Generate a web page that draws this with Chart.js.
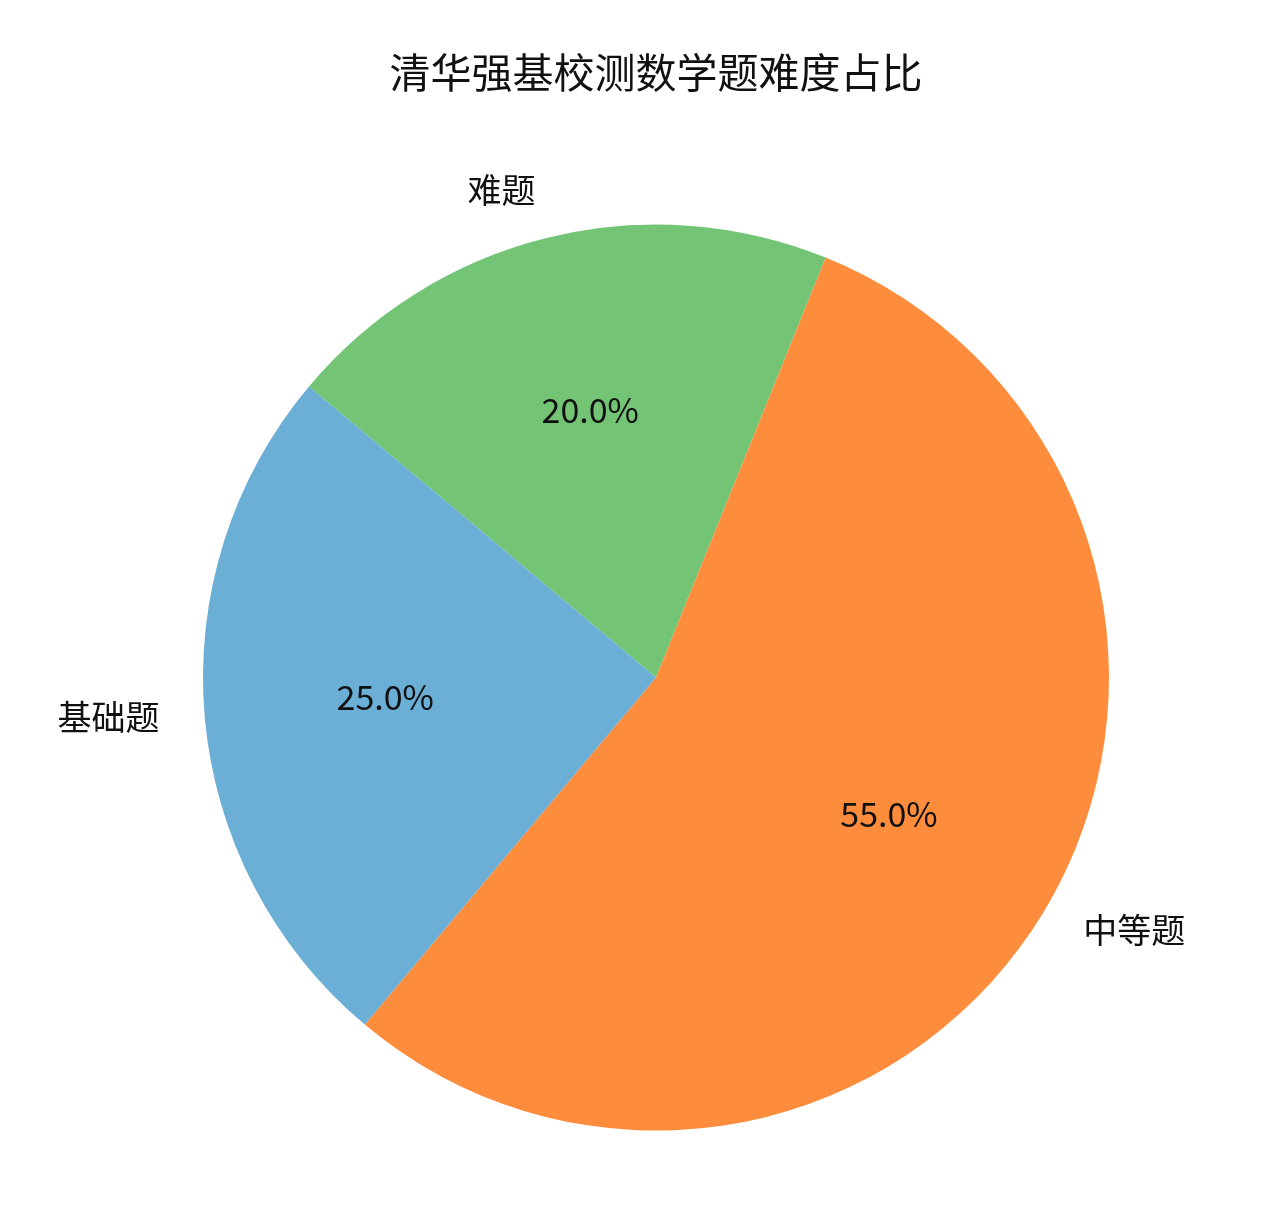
<!DOCTYPE html>
<html>
<head>
<meta charset="utf-8">
<script src="https://cdn.jsdelivr.net/npm/chart.js@4/dist/chart.umd.min.js"></script>
<style>
    html, body { margin: 0; padding: 0; background: #ffffff; }
    #wrap { width: 1280px; height: 1216px; }
</style>
</head>
<body>
<div id="wrap"><canvas id="pieChart" width="1280" height="1216"></canvas></div>
<script>
// ── Data ──────────────────────────────────────────────
const categories = ["基础题", "中等题", "难题"];
const shares = [25, 55, 20];
const sliceColors = ["#6baed6", "#fd8d3c", "#74c476"];

const FONT = "'Noto Sans CJK SC', 'Noto Sans', sans-serif";

// matplotlib draws counter-clockwise from 140°, Chart.js goes clockwise,
// so feed the slices in reverse order
const order = categories.map((_, i) => i).reverse();

// ── Slice labels (outside name + inside percentage) ──
const sliceLabels = {
    id: "sliceLabels",
    afterDatasetsDraw(chart) {
        const ctx = chart.ctx;
        const meta = chart.getDatasetMeta(0);
        const total = shares.reduce((a, b) => a + b, 0);
        const nudge = -4; // canvas "middle" sits a bit lower than mpl's center
        ctx.save();
        ctx.fillStyle = "#111111";
        ctx.font = `34px ${FONT}`;
        ctx.textBaseline = "middle";
        meta.data.forEach((arc, i) => {
            const { x, y, startAngle, endAngle, outerRadius } = arc.getProps(
                ["x", "y", "startAngle", "endAngle", "outerRadius"], true);
            const mid = (startAngle + endAngle) / 2;
            const cos = Math.cos(mid);
            const sin = Math.sin(mid);
            const value = chart.data.datasets[0].data[i];

            // category name at 1.1 r
            ctx.textAlign = cos >= 0 ? "left" : "right";
            ctx.fillText(chart.data.labels[i], x + cos * outerRadius * 1.1, y + sin * outerRadius * 1.1 + nudge);

            // percentage at 0.6 r
            ctx.textAlign = "center";
            ctx.fillText((value / total * 100).toFixed(1) + "%", x + cos * outerRadius * 0.6, y + sin * outerRadius * 0.6 + nudge);
        });
        ctx.restore();
    }
};

new Chart(document.getElementById("pieChart"), {
    type: "pie",
    data: {
        labels: order.map((i) => categories[i]),
        datasets: [{
            data: order.map((i) => shares[i]),
            backgroundColor: order.map((i) => sliceColors[i]),
            borderWidth: 0
        }]
    },
    options: {
        responsive: false,
        animation: false,
        rotation: -50,
        layout: {
            padding: { left: 203, right: 171, top: 0, bottom: 85 }
        },
        plugins: {
            legend: { display: false },
            tooltip: { enabled: false },
            title: {
                display: true,
                text: "清华强基校测数学题难度占比",
                color: "#111111",
                font: { family: FONT, size: 41, weight: "normal", lineHeight: 1.2 },
                padding: { top: 48, bottom: 127 }
            }
        }
    },
    plugins: [sliceLabels]
});
</script>
</body>
</html>
